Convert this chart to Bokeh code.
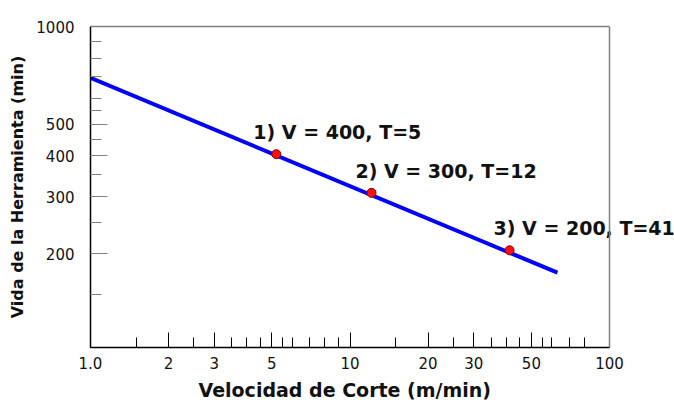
from bokeh.plotting import figure
from bokeh.models import Range1d, FixedTicker, Label, ColumnDataSource, LogAxis, Span, Title
from bokeh.embed import file_html
from bokeh.resources import INLINE

# Data (T = tool life on x, V = cutting speed on y as drawn)
line_t = [1.0, 63.0]
line_v = [695.0, 175.0]
pt_t = [5.2, 12.1, 41.2]
pt_v = [405.0, 308.0, 205.0]
pt_labels = ["1) V = 400, T=5", "2) V = 300, T=12", "3) V = 200, T=41"]

x_major = [1, 2, 3, 5, 10, 20, 30, 50, 100]
x_minor = [1.5, 2.5, 3.5, 4, 4.5, 5.5, 6, 7, 8, 9, 15, 25, 35, 40, 45, 55, 60, 70, 80]
x_labels = ["1.0", "2", "3", "5", "10", "20", "30", "50", "100"]
y_major = [200, 300, 400, 500, 1000]
y_minor = [150, 250, 350, 450, 550, 600, 700, 800, 900]
y_labels = ["200", "300", "400", "500", "1000"]

X_LO, X_HI = 1, 100
Y_LO, Y_HI = 103, 1000
X_VIEW_HI = 178  # extra room on the right so the third label is not clipped

FONT = "DejaVu Sans"
FRAME_GRAY = "#808080"

p = figure(width=674, height=407, x_axis_type="log", y_axis_type="log",
           x_range=Range1d(X_LO, X_VIEW_HI), y_range=Range1d(Y_LO, Y_HI),
           output_backend="svg", toolbar_location=None,
           min_border_left=90, min_border_right=0, min_border_top=26,
           min_border_bottom=60)
p.grid.visible = False
p.outline_line_color = None
p.background_fill_color = "white"
p.border_fill_color = "white"

xa = p.xaxis[0]
xa.bounds = (X_LO, X_HI)
xa.ticker = FixedTicker(ticks=x_major, minor_ticks=x_minor)
xa.major_label_overrides = {float(t): l for t, l in zip(x_major, x_labels)}
xa.major_tick_in = 15
xa.major_tick_out = 0
xa.minor_tick_in = 10
xa.minor_tick_out = 0
xa.major_tick_line_color = "black"
xa.minor_tick_line_color = "black"
xa.axis_line_color = "black"
xa.axis_line_width = 1.5
xa.major_label_text_font = FONT
xa.major_label_text_font_size = "15px"
xa.major_label_text_color = "#111111"
xa.major_label_standoff = 9

# x axis title, aligned to the visible part of the frame
p.add_layout(Title(text="Velocidad de Corte (m/min)", align="left", offset=108,
                   standoff=11, text_font=FONT, text_font_style="bold",
                   text_font_size="19px", text_color="#111111"), "below")

ya = p.yaxis[0]
ya.ticker = FixedTicker(ticks=y_major, minor_ticks=y_minor)
ya.major_label_overrides = {float(t): l for t, l in zip(y_major, y_labels)}
ya.major_tick_in = 17
ya.major_tick_out = 0
ya.minor_tick_in = 11
ya.minor_tick_out = 0
ya.major_tick_line_color = FRAME_GRAY
ya.minor_tick_line_color = FRAME_GRAY
ya.axis_line_color = "black"
ya.axis_line_width = 1.5
ya.major_label_text_font = FONT
ya.major_label_text_font_size = "15px"
ya.major_label_text_color = "#111111"
ya.major_label_standoff = 16
ya.axis_label = "Vida de la Herramienta (min)"
ya.axis_label_text_font = FONT
ya.axis_label_text_font_style = "bold"
ya.axis_label_text_font_size = "16px"
ya.axis_label_text_color = "#111111"
ya.axis_label_standoff = 6

# top border of the frame (only from X_LO to X_HI)
top = LogAxis(bounds=(X_LO, X_HI), ticker=FixedTicker(ticks=[], minor_ticks=[]),
              axis_line_color=FRAME_GRAY, axis_line_width=1.5,
              major_tick_in=0, major_tick_out=0, minor_tick_in=0, minor_tick_out=0,
              major_label_text_font_size="0px")
p.add_layout(top, "above")

p.line(line_t, line_v, line_color="#0000FF", line_width=4)
src = ColumnDataSource(dict(t=pt_t, v=pt_v))
p.scatter("t", "v", source=src, size=9, fill_color="#FF1010", line_color="#800000",
          line_width=1)

x_offs = [-23, -16, -16]
for t, v, lab, xo in zip(pt_t, pt_v, pt_labels, x_offs):
    p.add_layout(Label(x=t, y=v, text=lab, x_offset=xo, y_offset=22,
                       text_align="left", text_baseline="middle",
                       text_font=FONT, text_font_style="bold",
                       text_font_size="19px", text_color="#111111"))

# right border of the frame at X_HI, drawn over the labels
p.add_layout(Span(location=X_HI, dimension="height", line_color=FRAME_GRAY,
                  line_width=1.5))

open("out.html", "w").write(file_html(p, INLINE))
